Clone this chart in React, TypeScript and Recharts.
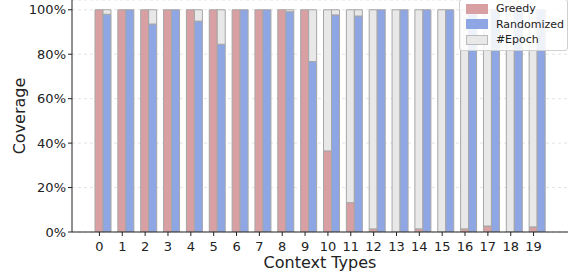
import { BarChart, Bar, XAxis, YAxis, CartesianGrid } from "recharts";

// Context types 0..19
const categories = ["0", "1", "2", "3", "4", "5", "6", "7", "8", "9", "10", "11", "12", "13", "14", "15", "16", "17", "18", "19"];

// Coverage (fraction) per context type
const greedy = [1, 1, 1, 1, 1, 1, 1, 1, 1, 1, 0.365, 0.132, 0.014, 0, 0.014, 0, 0.014, 0.027, 0, 0.023];
const randomized = [0.98, 1, 0.936, 1, 0.949, 0.845, 1, 1, 0.991, 0.767, 0.977, 0.972, 1, 1, 1, 1, 1, 1, 1, 1];

const yTicks = [0, 0.2, 0.4, 0.6, 0.8, 1.0];

const RED = "#d9a0a3";
const BLUE = "#8fa6e4";
const GREY = "#e8e8e8";
const EDGE = "#a6a6a6";
const FONT = "DejaVu Sans, sans-serif";

const data = categories.map((c, i) => ({
  name: c,
  greedy: greedy[i],
  greedyEpoch: 1 - greedy[i],
  randomized: randomized[i],
  randomizedEpoch: 1 - randomized[i],
}));

const legendItems = [
  { label: "Greedy", color: RED },
  { label: "Randomized", color: BLUE },
  { label: "#Epoch", color: GREY },
];

// legend drawn as an overlay so it does not take space from the plot
const LegendBox = () => (
  <div
    style={{
      position: "absolute",
      right: 1,
      top: -1,
      background: "rgba(255,255,255,0.85)",
      border: "1px solid #d0d0d0",
      borderRadius: 3,
      padding: "1px 3px 2px 6px",
      fontFamily: FONT,
      fontSize: 11,
      color: "#222",
    }}
  >
    {legendItems.map((it) => (
      <div key={it.label} style={{ display: "flex", alignItems: "center", height: 15.5 }}>
        <div style={{ width: 20, height: 8, background: it.color, border: `1px solid ${it.label === "#Epoch" ? "#bbb" : it.color}`, marginRight: 8 }} />
        <span>{it.label}</span>
      </div>
    ))}
  </div>
);

const XTick = (props: any) => {
  const { x, y, payload } = props;
  const tx = x - 4;
  return (
    <g>
      <line x1={tx} x2={tx} y1={y - 8} y2={y - 4} stroke="#222" strokeWidth={1} />
      <text x={tx} y={y + 11} textAnchor="middle" fontFamily={FONT} fontSize={13} fill="#222">
        {payload.value}
      </text>
    </g>
  );
};

export default function App() {
  return (
    <div style={{ position: "absolute", left: 0, top: 0, width: 569, height: 272, background: "#fff" }}>
      <BarChart
        width={569}
        height={272}
        data={data}
        margin={{ top: 0, right: 1, bottom: 0, left: 0 }}
        barSize={8}
        barGap={0}
      >
        <CartesianGrid vertical={false} strokeDasharray="3 3" stroke="#e4e4e4" />
        <XAxis
          dataKey="name"
          height={40}
          padding={{ left: 20, right: 19 }}
          tickLine={false}
          tick={<XTick />}
          interval={0}
          axisLine={{ stroke: "#222" }}
          label={{ value: "Context Types", position: "insideBottom", offset: 4, style: { fontFamily: FONT, fontSize: 16, fill: "#222" } }}
        />
        <YAxis
          width={72}
          domain={[0, 1.044]}
          ticks={yTicks}
          allowDataOverflow
          tickFormatter={(v: number) => `${Math.round(v * 100)}%`}
          tick={{ fontFamily: FONT, fontSize: 13, fill: "#222" }}
          tickSize={4}
          tickLine={{ stroke: "#222" }}
          axisLine={{ stroke: "#222" }}
          label={{ value: "Coverage", angle: -90, position: "insideLeft", offset: 19, style: { fontFamily: FONT, fontSize: 16, fill: "#222", textAnchor: "middle" } }}
        />
        <YAxis yAxisId="right" orientation="right" width={0} tick={false} axisLine={{ stroke: "#222" }} />
        <Bar dataKey="greedy" stackId="g" fill={RED} stroke={EDGE} strokeWidth={1} isAnimationActive={false} />
        <Bar dataKey="greedyEpoch" stackId="g" fill={GREY} stroke={EDGE} strokeWidth={1} isAnimationActive={false} />
        <Bar dataKey="randomized" stackId="r" fill={BLUE} stroke={EDGE} strokeWidth={1} isAnimationActive={false} />
        <Bar dataKey="randomizedEpoch" stackId="r" fill={GREY} stroke={EDGE} strokeWidth={1} isAnimationActive={false} />
      </BarChart>
      <LegendBox />
    </div>
  );
}
